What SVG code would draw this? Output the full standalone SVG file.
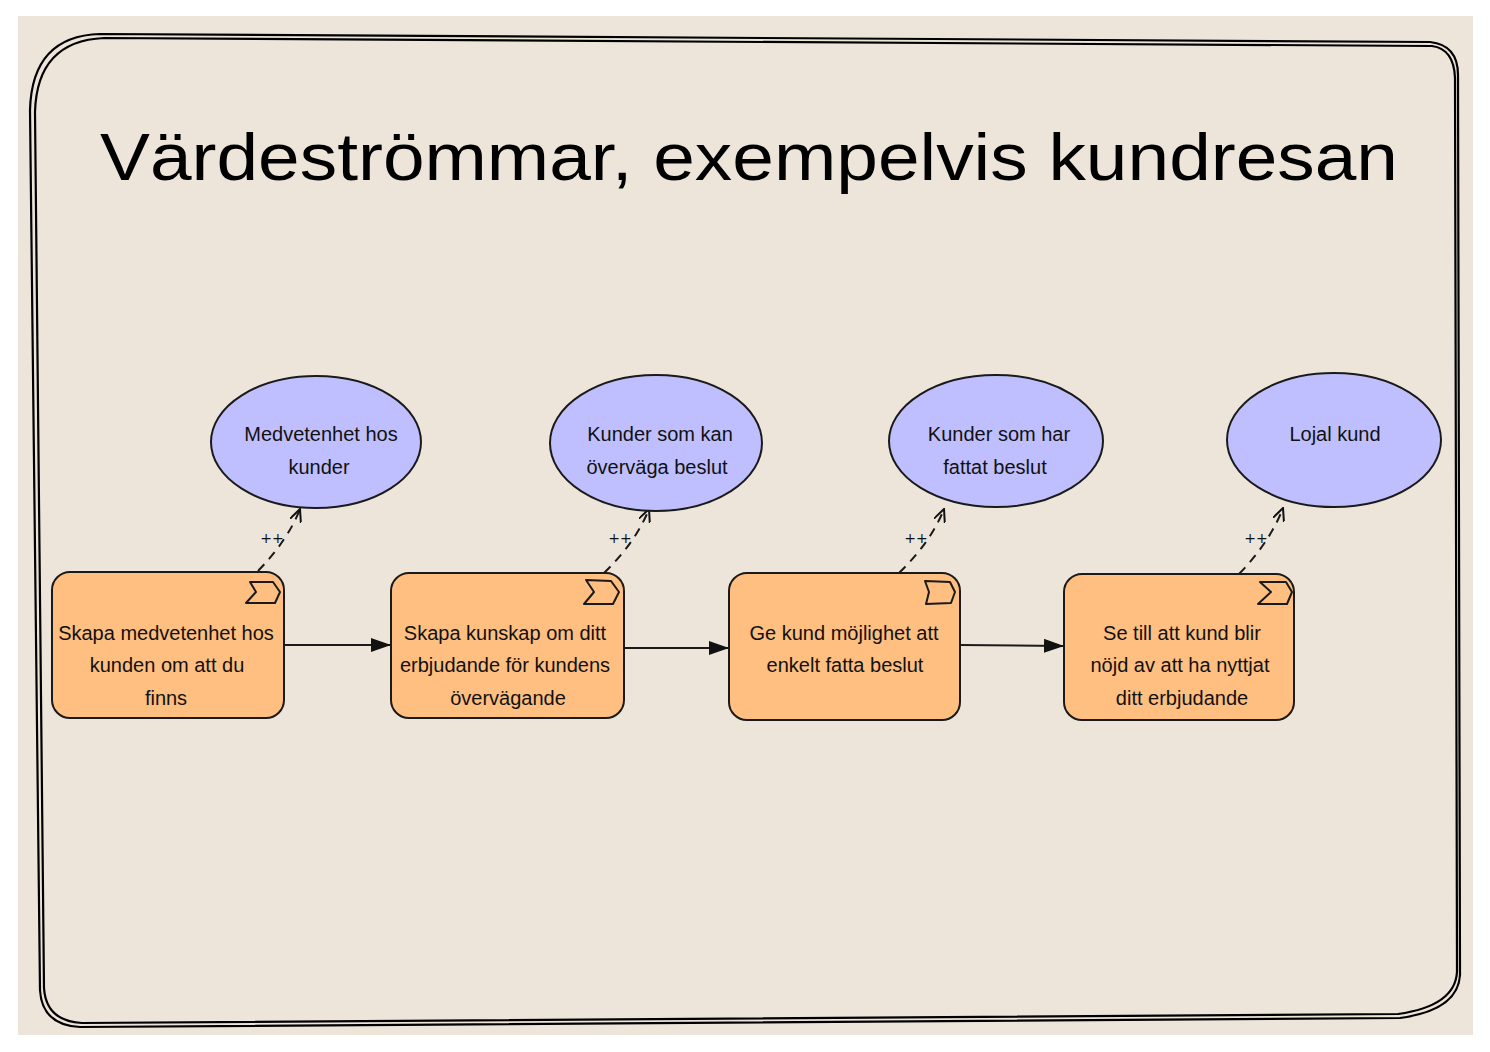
<svg xmlns="http://www.w3.org/2000/svg" width="1490" height="1052" viewBox="0 0 1490 1052">
<defs>
<style>
.frame{fill:none;stroke:#000;stroke-width:2.2;stroke-linejoin:round}
.box{fill:#FFBF80;stroke:#1a1a1a;stroke-width:2}
.ell{fill:#BFBFFF;stroke:#1a1a1a;stroke-width:2}
.icon{fill:none;stroke:#1a1a1a;stroke-width:2;stroke-linejoin:round}
.lbl{font-family:"Liberation Sans","DejaVu Sans",sans-serif;font-size:20px;fill:#111;text-anchor:middle}
.title{font-family:"Liberation Sans","DejaVu Sans",sans-serif;font-size:66px;fill:#000}
.pp{font-family:"DejaVu Sans","Liberation Sans",sans-serif;font-size:14px;fill:#111;text-anchor:middle}
.flow{fill:none;stroke:#1a1a1a;stroke-width:2}
.infl{fill:none;stroke:#1a1a1a;stroke-width:2;stroke-dasharray:9 7}
</style>
<marker id="tri" viewBox="0 0 20 14" refX="19" refY="7" markerWidth="20" markerHeight="14" markerUnits="userSpaceOnUse" orient="auto">
<path d="M0,0 L20,7 L0,14 Z" fill="#111"/>
</marker>
<marker id="open" viewBox="0 0 14 12" refX="13" refY="6" markerWidth="14" markerHeight="12" markerUnits="userSpaceOnUse" orient="auto">
<path d="M0,0 L13,6 L0,12" fill="none" stroke="#111" stroke-width="2"/>
</marker>
</defs>
<rect x="18" y="16" width="1455" height="1019" fill="#EDE5D9"/>
<g id="frame">
<path class="frame" d="M100,34 L1430,42 Q1458,45 1458,75 L1460,975 Q1458,1010 1400,1018 L80,1027 Q42,1025 40,990 L30,110 Q32,36 100,34 Z"/>
<path class="frame" d="M104,38 L1432,46 Q1454,49 1455,78 L1457,972 Q1455,1006 1398,1014 L82,1023 Q46,1021 44,988 L35,112 Q37,41 104,38 Z"/>
</g>
<g id="title">
<text class="title" x="100" y="180" textLength="1298" lengthAdjust="spacingAndGlyphs">Värdeströmmar, exempelvis kundresan</text>
</g>
<g id="connectors">
<path class="flow" d="M285,645 L390,645" marker-end="url(#tri)"/>
<path class="flow" d="M624,648 L728,648" marker-end="url(#tri)"/>
<path class="flow" d="M960,645 L1063,646" marker-end="url(#tri)"/>
<path class="infl" d="M258,571 Q288,540 300,509" marker-end="url(#open)"/>
<path class="infl" d="M604,573 Q636,542 649,509" marker-end="url(#open)"/>
<path class="infl" d="M899,573 Q931,542 944,509" marker-end="url(#open)"/>
<path class="infl" d="M1239,574 Q1270,542 1283,508" marker-end="url(#open)"/>
<text class="pp" x="272" y="543">++</text>
<text class="pp" x="620" y="543">++</text>
<text class="pp" x="916" y="543">++</text>
<text class="pp" x="1256" y="543">++</text>
</g>
<g id="outcome1">
<ellipse class="ell" cx="316" cy="442" rx="105" ry="66"/>
<text class="lbl" x="321" y="441">Medvetenhet hos</text>
<text class="lbl" x="319" y="474">kunder</text>
</g>
<g id="outcome2">
<ellipse class="ell" cx="656" cy="443" rx="106" ry="68"/>
<text class="lbl" x="660" y="441">Kunder som kan</text>
<text class="lbl" x="657" y="474">överväga beslut</text>
</g>
<g id="outcome3">
<ellipse class="ell" cx="996" cy="441" rx="107" ry="66"/>
<text class="lbl" x="999" y="441">Kunder som har</text>
<text class="lbl" x="995" y="474">fattat beslut</text>
</g>
<g id="outcome4">
<ellipse class="ell" cx="1334" cy="440" rx="107" ry="67"/>
<text class="lbl" x="1335" y="441">Lojal kund</text>
</g>
<g id="stream1">
<rect class="box" x="52" y="572" width="232" height="146" rx="18"/>
<path class="icon" d="M250,582 L273,582 L280,592 L275,603 L246,603 L256,592 Z"/>
<text class="lbl" x="166" y="640">Skapa medvetenhet hos</text>
<text class="lbl" x="167" y="672">kunden om att du</text>
<text class="lbl" x="166" y="705">finns</text>
</g>
<g id="stream2">
<rect class="box" x="391" y="573" width="233" height="145" rx="18"/>
<path class="icon" d="M586,580 L611,581 L619,592 L613,604 L584,604 L594,592 Z"/>
<text class="lbl" x="505" y="640">Skapa kunskap om ditt</text>
<text class="lbl" x="505" y="672">erbjudande för kundens</text>
<text class="lbl" x="508" y="705">övervägande</text>
</g>
<g id="stream3">
<rect class="box" x="729" y="573" width="231" height="147" rx="18"/>
<path class="icon" d="M925,581 L950,582 L955,592 L951,603 L926,604 L929,592 Z"/>
<text class="lbl" x="844" y="640">Ge kund möjlighet att</text>
<text class="lbl" x="845" y="672">enkelt fatta beslut</text>
</g>
<g id="stream4">
<rect class="box" x="1064" y="574" width="230" height="146" rx="18"/>
<path class="icon" d="M1260,582 L1286,582 L1292,592 L1287,604 L1258,604 L1271,592 Z"/>
<text class="lbl" x="1182" y="640">Se till att kund blir</text>
<text class="lbl" x="1180" y="672">nöjd av att ha nyttjat</text>
<text class="lbl" x="1182" y="705">ditt erbjudande</text>
</g>
</svg>
